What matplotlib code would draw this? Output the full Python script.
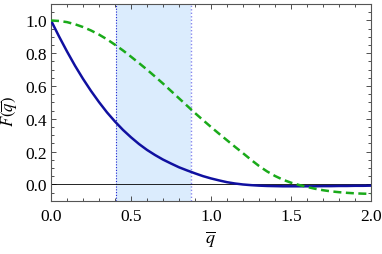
import numpy as np
import matplotlib
matplotlib.use("Agg")
import matplotlib.pyplot as plt
from matplotlib.ticker import MultipleLocator

q = [0.00, 0.05, 0.10, 0.15, 0.20, 0.25, 0.30, 0.35, 0.40, 0.45, 0.50, 0.55, 0.60,
     0.65, 0.70, 0.75, 0.80, 0.85, 0.90, 0.95, 1.00, 1.05, 1.10, 1.15, 1.20, 1.25,
     1.30, 1.35, 1.40, 1.45, 1.50, 1.55, 1.60, 1.65, 1.70, 1.75, 1.80, 1.85, 1.90,
     1.95, 2.00]
blue = [1.000, 0.903, 0.811, 0.724, 0.644, 0.570, 0.502, 0.439, 0.383, 0.332, 0.287,
        0.246, 0.210, 0.179, 0.151, 0.127, 0.104, 0.085, 0.067, 0.050, 0.036, 0.024,
        0.013, 0.005, -0.001, -0.005, -0.008, -0.010, -0.011, -0.012, -0.012, -0.012,
        -0.012, -0.012, -0.011, -0.011, -0.010, -0.010, -0.009, -0.009, -0.008]
green = [1.000, 0.997, 0.990, 0.977, 0.960, 0.939, 0.914, 0.885, 0.852, 0.817, 0.779,
         0.740, 0.700, 0.658, 0.615, 0.570, 0.525, 0.480, 0.435, 0.392, 0.350, 0.309,
         0.269, 0.229, 0.190, 0.150, 0.112, 0.079, 0.051, 0.028, 0.010, -0.004, -0.016,
         -0.027, -0.036, -0.043, -0.048, -0.052, -0.055, -0.057, -0.058]
band = [0.406, 0.875]
xticks = [0.0, 0.5, 1.0, 1.5, 2.0]
yticks = [0.0, 0.2, 0.4, 0.6, 0.8, 1.0]

plt.rcParams['font.family'] = ['Liberation Serif', 'DejaVu Serif']
plt.rcParams['mathtext.fontset'] = 'stix'

fig = plt.figure(figsize=(3.82, 2.55), dpi=100)
ax = fig.add_axes([0.1335, 0.209, 0.8377, 0.771])

ax.axvspan(band[0], band[1], color='#dbecfd', lw=0, zorder=0)
ax.axvline(band[0], color='#2020d0', ls=(0, (1, 1.5)), lw=0.8, zorder=1)
ax.axvline(band[1], color='#8888ee', ls=(0, (1, 1.5)), lw=1.0, zorder=1)
ax.axhline(0, color='black', lw=0.6, zorder=2)

ax.plot(q, blue, color='#1010a0', lw=1.8, zorder=3, solid_capstyle='butt')
ax.plot(q, green, color='#1aaa1a', lw=1.8, ls=(0, (3.2, 1.8)), zorder=4)

ax.set_xlim(0, 2)
ax.set_ylim(-0.1, 1.1)
ax.set_xticks(xticks)
ax.set_yticks(yticks)
ax.set_xticklabels([f"{t:.1f}" for t in xticks])
ax.set_yticklabels([f"{t:.1f}" for t in yticks])
ax.xaxis.set_minor_locator(MultipleLocator(0.1))
ax.yaxis.set_minor_locator(MultipleLocator(0.05))
ax.tick_params(which='both', direction='in', top=True, right=True, labelsize=12.5,
               color='#333333', width=0.6)
ax.tick_params(which='major', length=3.5)
ax.tick_params(which='minor', length=2)
ax.tick_params(axis='x', pad=5)
ax.tick_params(axis='y', pad=3)
for s in ax.spines.values():
    s.set_color('#555555')
    s.set_linewidth(0.8)

ax.set_xlabel(r'$\overline{q}$', fontsize=13, labelpad=3)
ax.set_ylabel(r'$F(\overline{q})$', fontsize=12)
ax.yaxis.set_label_coords(-0.1, 0.46)

fig.savefig('out.png', dpi=100)
